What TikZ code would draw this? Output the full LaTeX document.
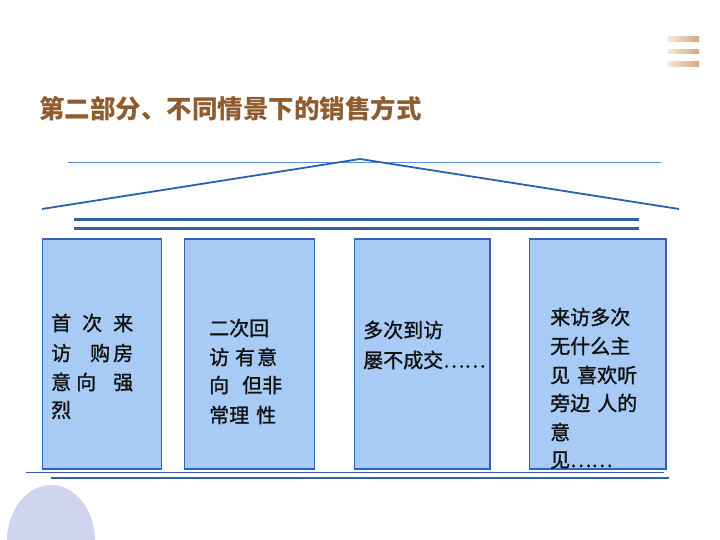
\documentclass[tikz,border=0pt]{standalone}
\usepackage{fontspec}
\newfontfamily\cjk{Noto Sans CJK SC}
\newfontfamily\cjkm{Noto Sans CJK SC}[FakeBold=1.2]
\definecolor{titlebrown}{RGB}{143,92,48}
\definecolor{topline}{RGB}{90,145,220}
\definecolor{roofblue}{RGB}{45,95,175}
\definecolor{beamblue}{RGB}{50,95,165}
\definecolor{colfill}{RGB}{168,203,246}
\definecolor{colborder}{RGB}{50,100,175}
\definecolor{lavender}{RGB}{208,212,238}
\definecolor{tanlight}{RGB}{245,232,220}
\definecolor{tandark}{RGB}{212,168,128}
\definecolor{txtgray}{RGB}{15,15,15}
\tikzset{
  txt/.style={font=\cjkm\fontsize{20}{20}\selectfont, text=txtgray, inner sep=0pt, anchor=west},
  column/.style={fill=colfill, draw=colborder, line width=1.8pt},
  bar/.style={left color=tanlight, right color=tandark, draw=none},
}
\begin{document}
\begin{tikzpicture}[x=1pt,y=-1pt]
\useasboundingbox (0,0) rectangle (720,540);
% menu icon
\fill[bar] (668,37) rectangle (699,42);
\fill[bar] (668,49.5) rectangle (699,54);
\fill[bar] (668,62) rectangle (699,67);
% title
\node[font=\cjk\bfseries\fontsize{25.5}{25.5}\selectfont, text=titlebrown, inner sep=0pt, anchor=west] (title) at (39,109) {第二部分、不同情景下的销售方式};
% top line and roof
\draw[topline, line width=1.8pt] (68,162.5) -- (661,162.5);
\coordinate (rl) at (42,209);
\coordinate (apex) at (360,159);
\coordinate (rr) at (679,209);
\draw[roofblue, line width=1.8pt] (rl) -- (apex) -- (rr);
% beams
\draw[beamblue, line width=2.2pt] (74,219.5) -- (639,219.5);
\draw[beamblue, line width=2.2pt] (74,228.5) -- (639,228.5);
% columns
\draw[column] (42.5,239) rectangle (161.5,469);
\draw[column] (184.5,239) rectangle (314.5,469);
\draw[column] (354.5,239) rectangle (490,469);
\draw[column] (529.5,239) rectangle (666,469);
% base lines
\draw[beamblue, line width=1.5pt] (26,472.5) -- (664,472.5);
\draw[beamblue, line width=2.8pt] (51,478) -- (669,478);
% lavender circle
\fill[lavender] (51,541) ellipse [x radius=44, y radius=56];
% box 1 text
\node[txt] (a1) at (51,323) {首\hspace{11pt}次\hspace{11pt}来};
\node[txt] (a2) at (51,353) {访\hspace{19pt}购\hspace{3pt}房};
\node[txt] (a3) at (51,382) {意\hspace{5pt}向\hspace{17pt}强};
\node[txt] (a4) at (51,410) {烈};
% box 2 text
\node[txt] (b1) at (209,328) {二次回};
\node[txt] (b2) at (209,357) {访\hspace{6pt}有\hspace{2pt}意};
\node[txt] (b3) at (209,385) {向\hspace{13pt}但非};
\node[txt] (b4) at (209,415) {常理\hspace{7pt}性};
% box 3 text
\node[txt] (c1) at (363,330) {多次到访};
\node[txt] (c2) at (363,360) {屡不成交……};
% box 4 text
\node[txt] (d1) at (550,317) {来访多次};
\node[txt] (d2) at (550,346) {无什么主};
\node[txt] (d3) at (550,375) {见\hspace{7pt}喜欢听};
\node[txt] (d4) at (550,403) {旁边\hspace{7pt}人的};
\node[txt] (d5) at (550,432) {意};
\node[txt] (d6) at (550,460) {见……};
\end{tikzpicture}
\end{document}
